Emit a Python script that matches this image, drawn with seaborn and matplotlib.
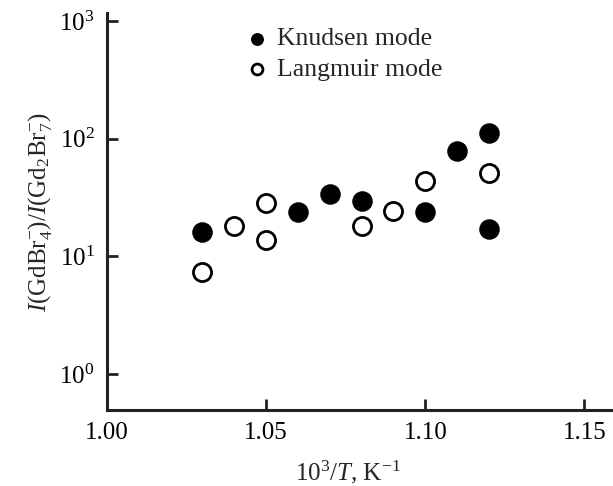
import matplotlib
matplotlib.use("Agg")
import matplotlib.pyplot as plt
import seaborn as sns
import pandas as pd
import numpy as np
from matplotlib.ticker import NullLocator

knudsen_x = [1.03, 1.06, 1.07, 1.08, 1.10, 1.11, 1.12, 1.12]
knudsen_y = [16.1, 23.8, 34.1, 29.5, 23.8, 78.0, 112.0, 17.2]
langmuir_x = [1.03, 1.04, 1.05, 1.05, 1.08, 1.09, 1.10, 1.12]
langmuir_y = [7.4, 18.1, 28.6, 13.7, 18.3, 24.1, 43.4, 51.4]
series_labels = ["Knudsen mode", "Langmuir mode"]
x_ticks = [1.00, 1.05, 1.10, 1.15]
x_tick_labels = ["1.00", "1.05", "1.10", "1.15"]
y_ticks = [1, 10, 100, 1000]

sns.set_style("ticks")
plt.rcParams['font.family'] = ['Liberation Serif', 'DejaVu Serif']
plt.rcParams['mathtext.fontset'] = 'custom'
plt.rcParams['mathtext.rm'] = 'Liberation Serif'
plt.rcParams['mathtext.it'] = 'Liberation Serif:italic'
plt.rcParams['mathtext.bf'] = 'Liberation Serif:bold'

fig = plt.figure(figsize=(6.13, 4.86), dpi=100)
ax = fig.add_axes([0.1746, 0.1564, 0.8254, 0.8166])

dk = pd.DataFrame({"x": knudsen_x, "y": knudsen_y})
dl = pd.DataFrame({"x": langmuir_x, "y": langmuir_y})
sns.scatterplot(data=dk, x="x", y="y", ax=ax, s=190, color="black",
                edgecolor="black", linewidth=1.0, label=series_labels[0], zorder=3)
sns.scatterplot(data=dl, x="x", y="y", ax=ax, s=170, facecolor="white",
                edgecolor="black", linewidth=2.0, label=series_labels[1], zorder=3)

ax.set_yscale("log")
ax.set_xlim(1.0, 1.159)
ax.set_ylim(10**-0.306, 10**3.068)
ax.set_xticks(x_ticks)
ax.set_xticklabels(x_tick_labels)
ax.set_yticks(y_ticks)
ax.yaxis.set_minor_locator(NullLocator())

for side in ["top", "right"]:
    ax.spines[side].set_visible(False)
for side in ["left", "bottom"]:
    ax.spines[side].set_linewidth(2.2)
    ax.spines[side].set_color("#222222")

ax.tick_params(axis="both", which="major", direction="in", length=8, width=2,
               labelsize=18, pad=9, colors="#222222", labelcolor="black")

ax.set_xlabel(r"10$^3$/$T$, K$^{-1}$", fontsize=18)
ax.xaxis.set_label_coords(0.476, -0.122)
ax.set_ylabel(r"$I$(GdBr$_4^{-}$)/$I$(Gd$_2$Br$_7^{-}$)", fontsize=18, labelpad=4)

leg = ax.legend(loc="upper left", bbox_to_anchor=(0.25, 0.99), frameon=False,
                fontsize=18.5, handletextpad=0.3, labelspacing=0.3, markerscale=0.6,
                borderaxespad=0, handlelength=1.0)

fig.savefig("out.png", dpi=100, facecolor="white")
